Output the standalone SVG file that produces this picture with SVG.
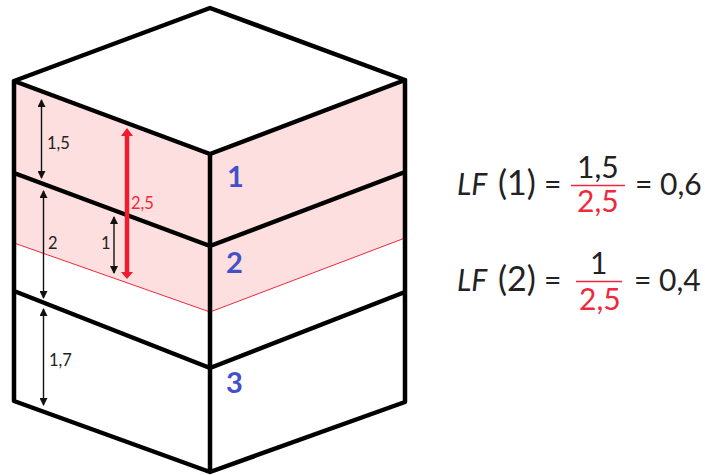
<svg xmlns="http://www.w3.org/2000/svg" width="705" height="475" viewBox="0 0 705 475">
<style>
text{font-family:Lato,"Open Sans",sans-serif;fill:#222}
.e{fill:none;stroke:#000;stroke-width:4.500;stroke-linejoin:round;stroke-linecap:round}
.d{fill:none;stroke:#111;stroke-width:1.400;marker-start:url(#a);marker-end:url(#a)}
.s{font-size:16.500px}
.n{font-size:29px;font-weight:700;fill:#4450c8}
.f{font-size:30px}
.p{font-size:34px}
.r{fill:#f0283c}
.i{font-style:italic}
.b{stroke:#f0283c;stroke-width:1.600}
</style>
<defs>
<marker id="a" markerWidth="10" markerHeight="8" refX="7" refY="4" orient="auto-start-reverse" markerUnits="userSpaceOnUse"><path d="M0 0L8 4L0 8Z" fill="#111"/></marker>
</defs>
<g id="shading">
<path d="M14 81L210 154L405 80V238L210 312L14 243Z" fill="#fedfdf"/>
<path d="M14 243L210 312L405 238" fill="none" stroke="#f0283c" stroke-width="1"/>
</g>
<g id="block">
<path class="e" d="M14 81L210 8L405 80L210 154ZM14 81V401L210 472L405 402V80M210 154V472M14 173L210 246L405 172M14 291L210 368L405 292"/>
</g>
<g id="connectors">
<path class="d" d="M41.500 100V178"/>
<path class="d" d="M43.500 191V298"/>
<path class="d" d="M43.500 309V405"/>
<path class="d" d="M114 217V273"/>
<path d="M127 136V272" stroke="#ee1c2e" stroke-width="4.500" fill="none"/>
<path d="M121 136L127 128L133 136ZM121 272L127 279L133 272Z" fill="#ee1c2e"/>
</g>
<g id="labels">
<text class="s" x="47" y="149">1,5</text>
<text class="s" x="48" y="249">2</text>
<text class="s" x="101" y="249">1</text>
<text class="s" x="49" y="366">1,7</text>
<text class="s r" x="131" y="209">2,5</text>
</g>
<g id="layer-1"><text class="n" x="227" y="187">1</text></g>
<g id="layer-2"><text class="n" x="226" y="273">2</text></g>
<g id="layer-3"><text class="n" x="226" y="393">3</text></g>
<g id="formula-1">
<text class="f i" x="457" y="195">LF</text>
<text class="p" x="498" y="195">(1)</text>
<text class="f" x="544" y="195">=</text>
<text class="f" x="577" y="178">1,5</text>
<path class="b" d="M571 185.500H625"/>
<text class="f r" x="577" y="212">2,5</text>
<text class="f" x="635" y="195">= 0,6</text>
</g>
<g id="formula-2">
<text class="f i" x="457" y="291">LF</text>
<text class="p" x="498" y="291">(2)</text>
<text class="f" x="544" y="291">=</text>
<text class="f" x="590" y="274">1</text>
<path class="b" d="M576 281.500H622"/>
<text class="f r" x="579" y="310">2,5</text>
<text class="f" x="634" y="291">= 0,4</text>
</g>
</svg>
